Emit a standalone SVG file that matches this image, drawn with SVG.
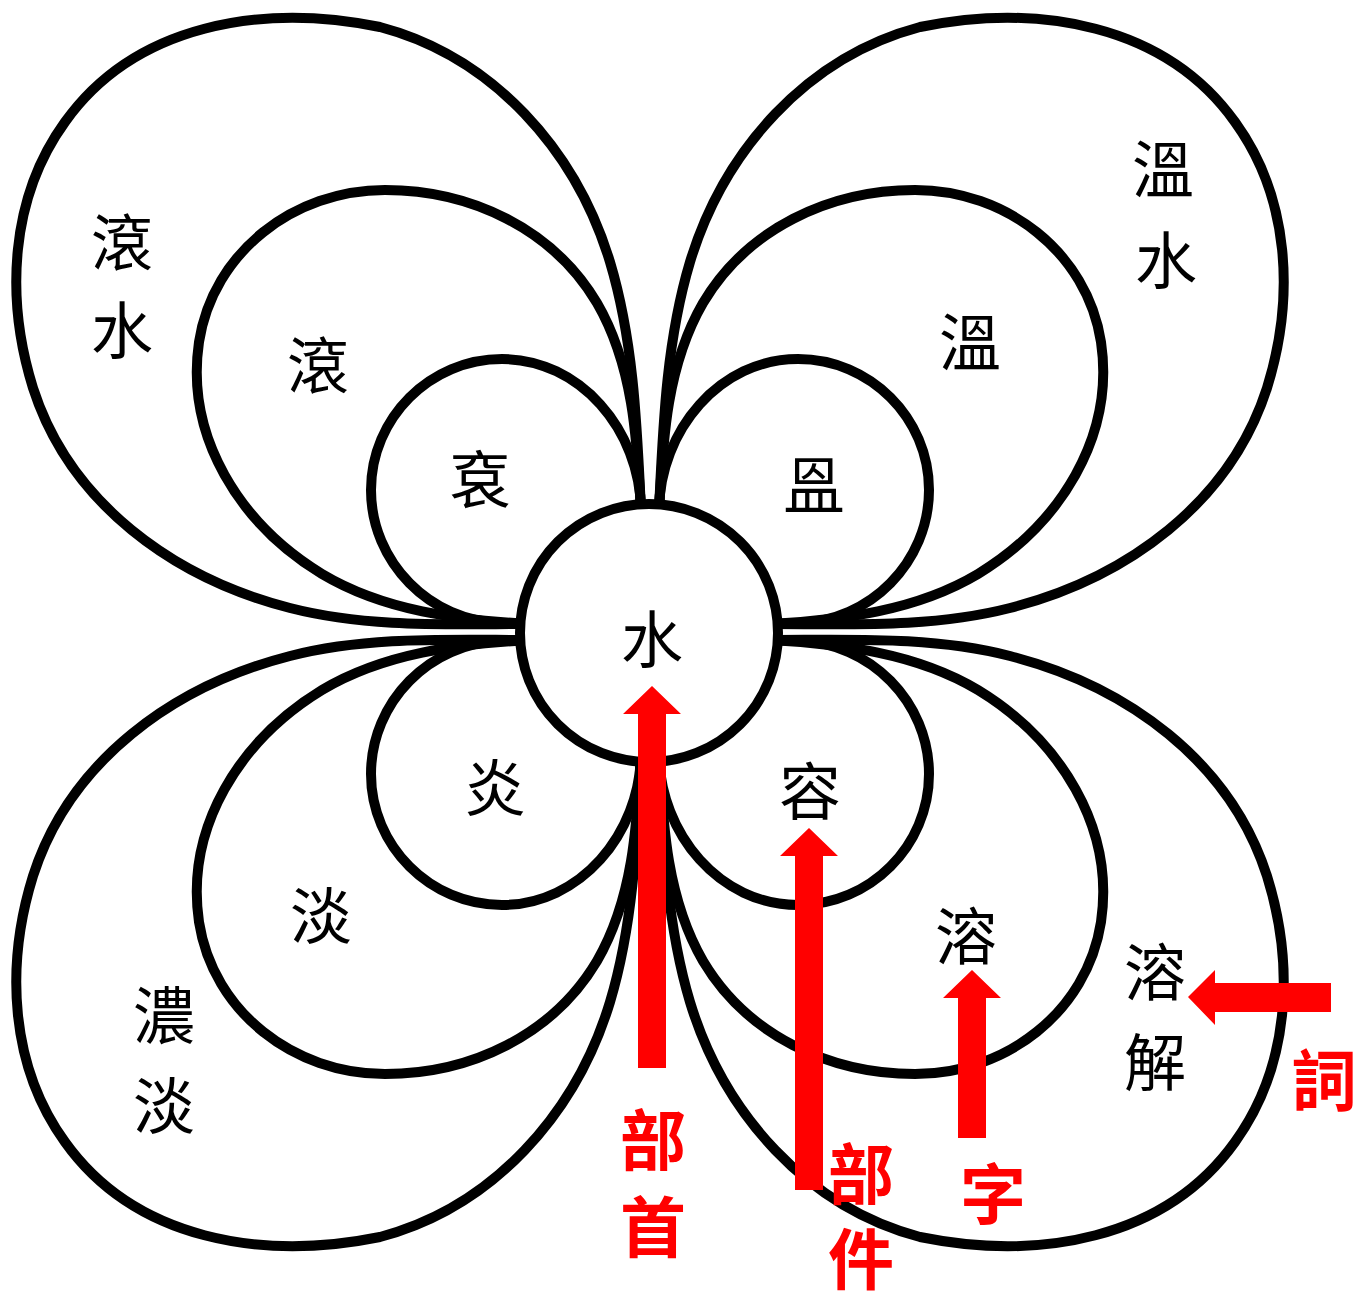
<svg xmlns="http://www.w3.org/2000/svg" width="1358" height="1295" viewBox="0 0 1358 1295">
<style>
.loop{fill:none;stroke:#000;stroke-width:10;stroke-linejoin:round}
.core{fill:#fff;stroke:#000;stroke-width:10}
.lbl{font-family:"Noto Sans CJK TC","Noto Sans CJK SC",sans-serif;font-size:62px;fill:#000;text-anchor:middle}
.red{font-family:"Noto Sans CJK TC","Noto Sans CJK SC",sans-serif;font-size:66px;font-weight:700;fill:#f00;text-anchor:middle}
.arrow{fill:#f00}
</style>
<defs>
<path id="large" d="M641,510 C637,427 634,342 610,262 C576,150 493,57 380,27 C262,3 135,24 65,122 C10,198 5,298 33,388 C70,503 173,578 290,608 C368,628 450,624 530,624"/>
<path id="medium" d="M641,510 C637,438 633,365 597,303 C553,229 471,190 385,190 C294,190 213,252 199,342 C185,437 240,524 322,574 C384,611 458,620 530,624"/>
<path id="small" d="M641,510 C640,430 580,359 502,359 C430,359 371,418 371,490 C371,562 430,622 502,623 L530,624"/>
</defs>
<g id="loop-tl-large"><use href="#large" class="loop"/></g>
<g id="loop-tl-medium"><use href="#medium" class="loop"/></g>
<g id="loop-tl-small"><use href="#small" class="loop"/></g>
<g id="loop-tr-large"><use href="#large" class="loop" transform="matrix(-1 0 0 1 1300 0)"/></g>
<g id="loop-tr-medium"><use href="#medium" class="loop" transform="matrix(-1 0 0 1 1300 0)"/></g>
<g id="loop-tr-small"><use href="#small" class="loop" transform="matrix(-1 0 0 1 1300 0)"/></g>
<g id="loop-bl-large"><use href="#large" class="loop" transform="matrix(1 0 0 -1 0 1264)"/></g>
<g id="loop-bl-medium"><use href="#medium" class="loop" transform="matrix(1 0 0 -1 0 1264)"/></g>
<g id="loop-bl-small"><use href="#small" class="loop" transform="matrix(1 0 0 -1 0 1264)"/></g>
<g id="loop-br-large"><use href="#large" class="loop" transform="matrix(-1 0 0 -1 1300 1264)"/></g>
<g id="loop-br-medium"><use href="#medium" class="loop" transform="matrix(-1 0 0 -1 1300 1264)"/></g>
<g id="loop-br-small"><use href="#small" class="loop" transform="matrix(-1 0 0 -1 1300 1264)"/></g>
<g id="center"><circle class="core" cx="649" cy="633" r="129"/><text class="lbl" x="652" y="663">水</text></g>
<g id="labels">
<text class="lbl" x="122" y="266">滾</text>
<text class="lbl" x="122" y="354">水</text>
<text class="lbl" x="318" y="389">滾</text>
<text class="lbl" x="480" y="503">袞</text>
<text class="lbl" x="1163" y="193">溫</text>
<text class="lbl" x="1166" y="284">水</text>
<text class="lbl" x="970" y="366">溫</text>
<text class="lbl" x="814" y="509">𥁕</text>
<text class="lbl" x="495" y="812">炎</text>
<text class="lbl" x="321" y="939">淡</text>
<text class="lbl" x="164" y="1039">濃</text>
<text class="lbl" x="164" y="1129">淡</text>
<text class="lbl" x="810" y="815">容</text>
<text class="lbl" x="966" y="960">溶</text>
<text class="lbl" x="1155" y="996">溶</text>
<text class="lbl" x="1155" y="1086">解</text>
</g>
<g id="connectors">
<polygon class="arrow" points="652,686 681,714 666,714 666,1068 638,1068 638,714 623,714"/>
<polygon class="arrow" points="809,828 838,856 823,856 823,1190 795,1190 795,856 780,856"/>
<polygon class="arrow" points="972,970 1001,998 986,998 986,1138 958,1138 958,998 943,998"/>
<polygon class="arrow" points="1188,997 1215,970 1215,983 1331,983 1331,1012 1215,1012 1215,1025"/>
</g>
<g id="red-labels">
<text class="red" x="653" y="1165">部</text>
<text class="red" x="653" y="1252">首</text>
<text class="red" x="861" y="1199">部</text>
<text class="red" x="861" y="1284">件</text>
<text class="red" x="993" y="1219">字</text>
<text class="red" x="1324" y="1105">詞</text>
</g>
</svg>
